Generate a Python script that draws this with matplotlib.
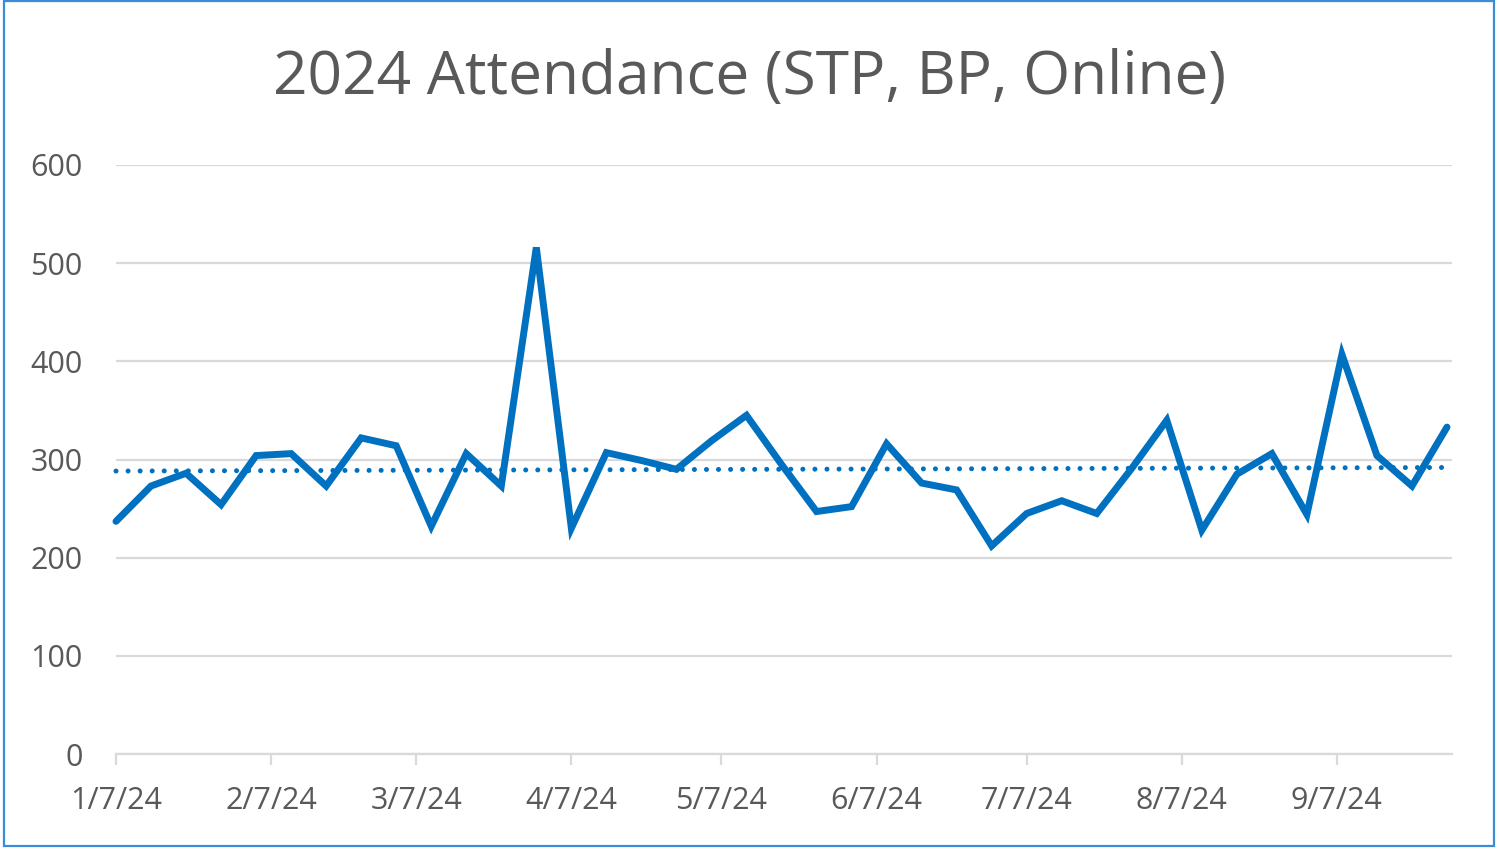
import matplotlib
matplotlib.use("Agg")
import matplotlib.pyplot as plt
import matplotlib.dates as mdates
import numpy as np
import pandas as pd
from matplotlib.patches import Rectangle

plt.rcParams['font.family'] = ['Open Sans', 'DejaVu Sans']

title = "2024 Attendance (STP, BP, Online)"
dates = pd.date_range("2024-01-07", "2024-09-29", freq="7D")
attendance = [237, 273, 286, 254, 304, 306, 273, 322, 314, 232, 306, 273, 516,
              230, 307, 299, 290, 319, 345, 295, 247, 252, 316, 276, 269, 212,
              245, 258, 245, 291, 340, 228, 285, 306, 244, 407, 304, 273, 333]
y_ticks = [0, 100, 200, 300, 400, 500, 600]

line_color = "#0070C0"
text_color = "#595959"
grid_color = "#D9D9D9"

fig = plt.figure(figsize=(15, 8.51), dpi=100)
ax = fig.add_axes([116/1500, 1-754/851, (1452-116)/1500, (754-165)/851])

x = mdates.date2num(dates)
ax.plot(dates, attendance, color=line_color, lw=5, solid_joinstyle='miter',
        solid_capstyle='round', zorder=3, clip_on=False)

# linear trendline
coef = np.polyfit(x, attendance, 1)
trend = np.polyval(coef, x)
ax.plot(dates, trend, color=line_color, lw=3.6, linestyle=(0, (0.01, 2.4)),
        dash_capstyle='round', zorder=2, clip_on=False)

ax.set_ylim(0, 600)
ax.set_yticks(y_ticks)
ax.set_xlim(dates[0], dates[-1] + pd.Timedelta(days=1))
ax.xaxis.set_major_locator(mdates.MonthLocator(bymonthday=7))
ax.xaxis.set_major_formatter(mdates.DateFormatter("%-m/%-d/%y"))

ax.grid(axis='y', color=grid_color, lw=1.6, zorder=0)
ax.set_axisbelow(True)
for s in ['top', 'right', 'left']:
    ax.spines[s].set_visible(False)
ax.spines['bottom'].set_color(grid_color)
ax.spines['bottom'].set_linewidth(1.6)

ax.tick_params(axis='y', length=0, pad=24, labelsize=22, labelcolor=text_color)
ax.tick_params(axis='x', length=8, width=1.6, color=grid_color, pad=15,
               labelsize=22, labelcolor=text_color)

fig.text(0.4995, 1-78/851, title, ha='center', va='center', fontsize=43.5, color=text_color)

fig.patches.append(Rectangle((4/1500, 1-846/851), 1490/1500, 845/851,
                             transform=fig.transFigure, fill=False,
                             edgecolor="#3A8BD8", lw=1.6))

fig.savefig("out.png", dpi=100)
